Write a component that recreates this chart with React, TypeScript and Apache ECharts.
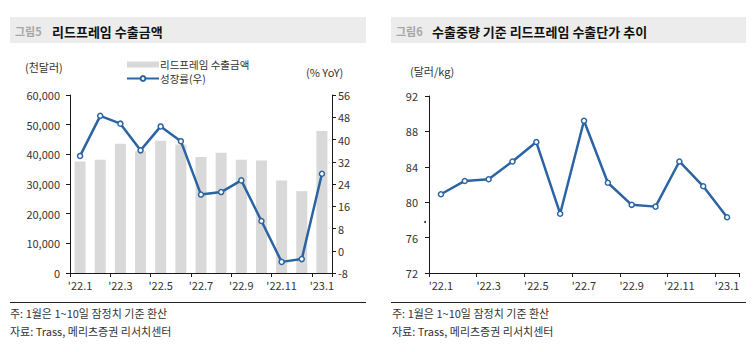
import React, { useEffect, useRef } from "react";
import * as echarts from "echarts";

const categories = ["'22.1", "'22.2", "'22.3", "'22.4", "'22.5", "'22.6", "'22.7", "'22.8", "'22.9", "'22.10", "'22.11", "'22.12", "'23.1"];
const exportAmount = [37600, 38200, 43600, 41000, 44600, 43300, 39100, 40500, 38200, 37900, 31200, 27600, 47900];
const growthYoY = [34.1, 48.5, 45.7, 36.1, 44.7, 39.4, 20.2, 21.1, 25.3, 10.7, -4.0, -3.0, 27.7];
const unitPrice = [80.9, 82.4, 82.6, 84.6, 86.8, 78.7, 89.2, 82.2, 79.7, 79.5, 84.6, 81.8, 78.3];

const FONT = "'Noto Sans CJK KR', 'Noto Sans', sans-serif";
const BLUE = "#2b64a3";
const TXT = "#333";
const AX = "#1a1a1a";

export default function App() {
  const ref = useRef<HTMLDivElement>(null);
  useEffect(() => {
    document.body.style.margin = "0";
    const chart = echarts.init(ref.current!, undefined, { renderer: "svg" });
    const axisLabel = { color: TXT, fontSize: 11, fontFamily: FONT };
    const xAxisBase = {
      type: "category",
      data: categories,
      boundaryGap: true,
      axisLine: { show: true, lineStyle: { color: AX, width: 1 } },
      axisTick: { show: true, interval: 1, length: 4, inside: false, lineStyle: { color: AX } },
      axisLabel: { ...axisLabel, interval: 1, margin: 6 },
      splitLine: { show: false },
    };
    chart.setOption({
      animation: false,
      textStyle: { fontFamily: FONT },
      legend: {
        data: [
          { name: "리드프레임 수출금액", icon: "rect", itemStyle: { color: "#d9d9d9" } },
          { name: "성장률(우)" },
        ],
        orient: "vertical",
        left: 126,
        top: 59,
        itemWidth: 32,
        itemHeight: 6,
        itemGap: 3,
        textStyle: { color: TXT, fontSize: 10.5, lineHeight: 11, fontFamily: FONT, padding: [0, 0, 0, -4] },
        padding: 0,
      },
      grid: [
        { left: 70, right: 421, top: 95, bottom: 79 },
        { left: 429, right: 14, top: 96, bottom: 79 },
      ],
      xAxis: [
        { ...xAxisBase, gridIndex: 0 },
        { ...xAxisBase, gridIndex: 1 },
      ],
      yAxis: [
        {
          type: "value", gridIndex: 0, min: 0, max: 60000, interval: 10000,
          axisLine: { show: true, lineStyle: { color: AX } },
          axisTick: { show: true, length: 4, lineStyle: { color: AX } },
          axisLabel: { ...axisLabel, margin: 10, formatter: (v: number) => v.toLocaleString("en-US") },
          splitLine: { show: false },
        },
        {
          type: "value", gridIndex: 0, position: "right", min: -8, max: 56, interval: 8,
          axisLine: { show: true, lineStyle: { color: AX } },
          axisTick: { show: true, length: 4, lineStyle: { color: AX } },
          axisLabel: { ...axisLabel, margin: 6 },
          splitLine: { show: false },
        },
        {
          type: "value", gridIndex: 1, min: 72, max: 92, interval: 4,
          axisLine: { show: true, lineStyle: { color: AX } },
          axisTick: { show: true, length: 4, lineStyle: { color: AX } },
          axisLabel: { ...axisLabel, margin: 11 },
          splitLine: { show: false },
        },
      ],
      series: [
        {
          name: "리드프레임 수출금액",
          type: "bar",
          xAxisIndex: 0,
          yAxisIndex: 0,
          data: exportAmount,
          barWidth: 11,
          itemStyle: { color: "#d9d9d9" },
        },
        {
          name: "성장률(우)",
          type: "line",
          xAxisIndex: 0,
          yAxisIndex: 1,
          data: growthYoY,
          symbol: "circle",
          symbolSize: 5,
          lineStyle: { color: BLUE, width: 2.5 },
          itemStyle: { color: "#fff", borderColor: BLUE, borderWidth: 1.5 },
        },
        {
          name: "수출단가",
          type: "line",
          xAxisIndex: 1,
          yAxisIndex: 2,
          data: unitPrice,
          symbol: "circle",
          symbolSize: 5,
          lineStyle: { color: BLUE, width: 2.5 },
          itemStyle: { color: "#fff", borderColor: BLUE, borderWidth: 1.5 },
        },
      ],
      graphic: [
        { type: "rect", shape: { x: 10, y: 17, width: 356, height: 26 }, style: { fill: "#ececec" } },
        { type: "text", x: 15, y: 31, style: { text: "그림5", fill: "#a6a6a6", fontSize: 11, fontWeight: "bold", fontFamily: FONT, verticalAlign: "middle" } },
        { type: "text", x: 52, y: 31, style: { text: "리드프레임 수출금액", fill: "#111", fontSize: 13, fontWeight: "bold", fontFamily: FONT, verticalAlign: "middle" } },
        { type: "rect", shape: { x: 391, y: 17, width: 355, height: 26 }, style: { fill: "#ececec" } },
        { type: "text", x: 396, y: 31, style: { text: "그림6", fill: "#a6a6a6", fontSize: 11, fontWeight: "bold", fontFamily: FONT, verticalAlign: "middle" } },
        { type: "text", x: 432, y: 31, style: { text: "수출중량 기준 리드프레임 수출단가 추이", fill: "#111", fontSize: 13, fontWeight: "bold", fontFamily: FONT, verticalAlign: "middle" } },
        { type: "text", x: 25, y: 67, style: { text: "(천달러)", fill: TXT, fontSize: 11, fontFamily: FONT, verticalAlign: "middle" } },
        { type: "text", x: 306, y: 72, style: { text: "(% YoY)", fill: TXT, fontSize: 11, fontFamily: FONT, verticalAlign: "middle" } },
        { type: "text", x: 410, y: 71, style: { text: "(달러/kg)", fill: TXT, fontSize: 11, fontFamily: FONT, verticalAlign: "middle" } },
        { type: "circle", shape: { cx: 425, cy: 222, r: 1 }, style: { fill: "#1d2a7a" } },
        { type: "line", shape: { x1: 10, y1: 302.5, x2: 366, y2: 302.5 }, style: { stroke: "#222", lineWidth: 1 } },
        { type: "line", shape: { x1: 391, y1: 302.5, x2: 746, y2: 302.5 }, style: { stroke: "#222", lineWidth: 1 } },
        { type: "text", x: 10, y: 313, style: { text: "주: 1월은 1~10일 잠정치 기준 환산", fill: TXT, fontSize: 11, fontFamily: FONT, verticalAlign: "middle" } },
        { type: "text", x: 10, y: 331, style: { text: "자료: Trass, 메리츠증권 리서치센터", fill: TXT, fontSize: 11, fontFamily: FONT, verticalAlign: "middle" } },
        { type: "text", x: 392, y: 313, style: { text: "주: 1월은 1~10일 잠정치 기준 환산", fill: TXT, fontSize: 11, fontFamily: FONT, verticalAlign: "middle" } },
        { type: "text", x: 392, y: 331, style: { text: "자료: Trass, 메리츠증권 리서치센터", fill: TXT, fontSize: 11, fontFamily: FONT, verticalAlign: "middle" } },
      ],
    });
    return () => chart.dispose();
  }, []);
  return <div ref={ref} style={{ width: 753, height: 352 }} />;
}
